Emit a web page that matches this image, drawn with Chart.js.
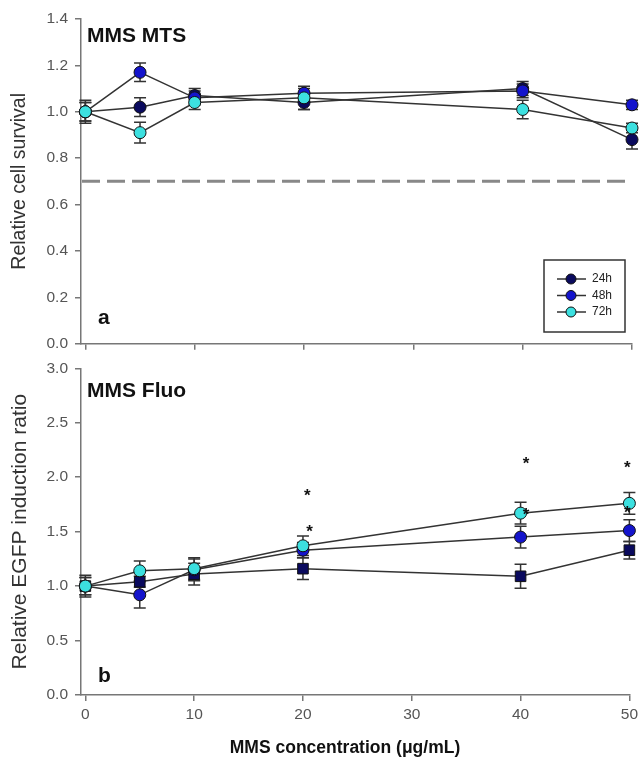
<!DOCTYPE html>
<html>
<head>
<meta charset="utf-8">
<script src="https://cdn.jsdelivr.net/npm/chart.js@4/dist/chart.umd.min.js"></script>
<style>
  body { margin: 0; background: #fff; width: 642px; height: 764px; overflow: hidden; position: relative; }
  canvas { position: absolute; left: 0; }
  #mtsChart { top: 0; }
  #fluoChart { top: 352px; }
</style>
</head>
<body>
<canvas id="mtsChart" width="642" height="360"></canvas>
<canvas id="fluoChart" width="642" height="412"></canvas>
<script>
const concentrations = [0, 5, 10, 20, 40, 50];
const xTicks = [0, 10, 20, 30, 40, 50];
const seriesNames = ['24h', '48h', '72h'];
const seriesColors = ['#0a0a5e', '#1414cc', '#3ce0e0'];

// panel a - MTS survival
const mts24h = [1.00, 1.02, 1.07, 1.04, 1.10, 0.88];
const mts48h = [1.00, 1.17, 1.06, 1.08, 1.09, 1.03];
const mts72h = [1.00, 0.91, 1.04, 1.06, 1.01, 0.93];
const mtsErr24h = [0.04, 0.04, 0.03, 0.03, 0.03, 0.04];
const mtsErr48h = [0.04, 0.04, 0.03, 0.02, 0.03, 0.02];
const mtsErr72h = [0.05, 0.045, 0.03, 0.05, 0.04, 0.02];
const mtsTicks = [0, 0.2, 0.4, 0.6, 0.8, 1.0, 1.2, 1.4];
const mtsCutoff = 0.7;

// panel b - EGFP fluorescence
const fluo24h = [1.00, 1.04, 1.11, 1.16, 1.09, 1.33];
const fluo48h = [1.00, 0.92, 1.15, 1.33, 1.45, 1.51];
const fluo72h = [1.00, 1.14, 1.16, 1.37, 1.67, 1.76];
const fluoErr24h = [0.10, 0.05, 0.10, 0.10, 0.11, 0.08];
const fluoErr48h = [0.08, 0.12, 0.10, 0.07, 0.10, 0.10];
const fluoErr72h = [0.08, 0.09, 0.10, 0.09, 0.10, 0.10];
const fluoTicks = [0, 0.5, 1.0, 1.5, 2.0, 2.5, 3.0];
const starX = [20.4, 20.6, 40.5, 40.5, 49.8, 49.8];
const starY = [1.84, 1.51, 2.13, 1.66, 2.09, 1.68];

Chart.defaults.font.family = "'Liberation Sans', Arial, sans-serif";
Chart.defaults.color = '#555';

const makeSeries = (i, vals, errs, style, radius) => ({
    label: seriesNames[i],
    data: concentrations.map((c, k) => ({ x: c, y: vals[k] })),
    errs: errs,
    borderColor: '#333',
    borderWidth: 1.5,
    backgroundColor: seriesColors[i],
    pointBackgroundColor: seriesColors[i],
    pointBorderColor: '#111',
    pointBorderWidth: 1,
    pointRadius: radius,
    pointStyle: style,
    order: 2 - i,
    clip: false
});

const errorBars = {
    id: 'errorBars',
    beforeDatasetsDraw(chart) {
        const { ctx, scales: { x, y } } = chart;
        ctx.save();
        ctx.strokeStyle = '#333';
        ctx.lineWidth = 1.5;
        chart.data.datasets.forEach(ds => {
            ds.data.forEach((p, k) => {
                const e = ds.errs[k];
                const px = x.getPixelForValue(p.x);
                const top = y.getPixelForValue(p.y + e);
                const bot = y.getPixelForValue(p.y - e);
                ctx.beginPath();
                ctx.moveTo(px, top); ctx.lineTo(px, bot);
                ctx.moveTo(px - 6, top); ctx.lineTo(px + 6, top);
                ctx.moveTo(px - 6, bot); ctx.lineTo(px + 6, bot);
                ctx.stroke();
            });
        });
        ctx.restore();
    }
};

const panelText = {
    id: 'panelText',
    afterDraw(chart, args, opts) {
        const ctx = chart.ctx;
        ctx.save();
        ctx.fillStyle = '#111';
        ctx.textBaseline = 'middle';
        ctx.textAlign = 'left';
        (opts.items || []).forEach(t => {
            ctx.font = t.font;
            ctx.fillText(t.text, t.x, t.y);
        });
        ctx.restore();
    }
};

const cutoffLine = {
    id: 'cutoffLine',
    beforeDatasetsDraw(chart) {
        const { ctx, chartArea, scales: { y } } = chart;
        const py = y.getPixelForValue(mtsCutoff);
        ctx.save();
        ctx.strokeStyle = '#888';
        ctx.lineWidth = 3;
        ctx.setLineDash([18, 7]);
        ctx.beginPath();
        ctx.moveTo(chartArea.left + 1, py);
        ctx.lineTo(chartArea.right, py);
        ctx.stroke();
        ctx.restore();
    }
};

const legendBox = {
    id: 'legendBox',
    afterDraw(chart) {
        const ctx = chart.ctx;
        ctx.save();
        ctx.fillStyle = '#fff';
        ctx.strokeStyle = '#333';
        ctx.lineWidth = 1.5;
        ctx.fillRect(544, 260, 81, 72);
        ctx.strokeRect(544, 260, 81, 72);
        ctx.font = "12px 'Liberation Sans', Arial, sans-serif";
        ctx.textBaseline = 'middle';
        seriesNames.forEach((name, i) => {
            const ly = 279 + i * 16.5;
            ctx.strokeStyle = '#333';
            ctx.beginPath();
            ctx.moveTo(557, ly); ctx.lineTo(586, ly);
            ctx.stroke();
            ctx.beginPath();
            ctx.arc(571, ly, 5, 0, Math.PI * 2);
            ctx.fillStyle = seriesColors[i];
            ctx.fill();
            ctx.lineWidth = 1;
            ctx.strokeStyle = '#111';
            ctx.stroke();
            ctx.lineWidth = 1.5;
            ctx.fillStyle = '#222';
            ctx.fillText(name, 592, ly);
        });
        ctx.restore();
    }
};

const stars = {
    id: 'stars',
    afterDatasetsDraw(chart) {
        const { ctx, scales: { x, y } } = chart;
        ctx.save();
        ctx.fillStyle = '#111';
        ctx.font = "bold 17px 'Liberation Sans', Arial, sans-serif";
        ctx.textAlign = 'center';
        ctx.textBaseline = 'alphabetic';
        starX.forEach((sx, i) => {
            ctx.fillText('*', x.getPixelForValue(sx), y.getPixelForValue(starY[i]) + 6);
        });
        ctx.restore();
    }
};

const xTitle = {
    id: 'xTitle',
    afterDraw(chart) {
        const ctx = chart.ctx;
        ctx.save();
        ctx.fillStyle = '#111';
        ctx.font = "bold 17.5px 'Liberation Sans', Arial, sans-serif";
        ctx.textAlign = 'center';
        ctx.textBaseline = 'middle';
        ctx.fillText('MMS concentration (\u03BCg/mL)', 345, 396);
        ctx.restore();
    }
};

const xAxis = (showLabels, height) => ({
    type: 'linear',
    min: -0.4,
    max: 50,
    afterBuildTicks: s => { s.ticks = xTicks.map(v => ({ value: v })); },
    afterFit: s => { s.height = height; },
    grid: { display: true, drawOnChartArea: false, drawTicks: true, tickLength: 6, color: '#777', lineWidth: 1.5 },
    border: { display: true, color: '#777', width: 1.5 },
    ticks: { display: showLabels, autoSkip: false, maxRotation: 0, padding: 4, color: '#555', font: { size: 15.5 } }
});

const yAxis = (min, max, ticks, title, titleSize) => ({
    type: 'linear',
    min: min,
    max: max,
    afterBuildTicks: s => { s.ticks = ticks.map(v => ({ value: v })); },
    afterFit: s => { s.width = 81; },
    grid: { display: true, drawOnChartArea: false, drawTicks: true, tickLength: 6, color: '#777', lineWidth: 1.5 },
    border: { display: true, color: '#777', width: 1.5 },
    ticks: { padding: 7, color: '#555', font: { size: 15.5 }, callback: v => v.toFixed(1) },
    title: { display: true, text: title, color: '#333', font: { size: titleSize }, padding: { top: 8, bottom: 0 } }
});

new Chart(document.getElementById('mtsChart'), {
    type: 'line',
    data: {
        datasets: [
            makeSeries(0, mts24h, mtsErr24h, 'circle', 6),
            makeSeries(1, mts48h, mtsErr48h, 'circle', 6),
            makeSeries(2, mts72h, mtsErr72h, 'circle', 6)
        ]
    },
    options: {
        responsive: false,
        animation: false,
        events: [],
        layout: { padding: { top: 19, right: 10, bottom: 0, left: 0 } },
        scales: {
            x: xAxis(false, 12),
            y: yAxis(0, 1.4, mtsTicks, 'Relative cell survival', 19.5)
        },
        plugins: {
            legend: { display: false },
            tooltip: { enabled: false },
            panelText: {
                items: [
                    { text: 'MMS MTS', x: 87, y: 36, font: "bold 21px 'Liberation Sans', Arial, sans-serif" },
                    { text: 'a', x: 98, y: 318, font: "bold 21px 'Liberation Sans', Arial, sans-serif" }
                ]
            }
        }
    },
    plugins: [cutoffLine, errorBars, panelText, legendBox]
});

new Chart(document.getElementById('fluoChart'), {
    type: 'line',
    data: {
        datasets: [
            makeSeries(0, fluo24h, fluoErr24h, 'rect', 7.5),
            makeSeries(1, fluo48h, fluoErr48h, 'circle', 6),
            makeSeries(2, fluo72h, fluoErr72h, 'circle', 6)
        ]
    },
    options: {
        responsive: false,
        animation: false,
        events: [],
        layout: { padding: { top: 0, right: 10, bottom: 0, left: 0 } },
        scales: {
            x: xAxis(true, 69),
            y: yAxis(0, 3.0, fluoTicks, 'Relative EGFP induction ratio', 21)
        },
        plugins: {
            legend: { display: false },
            tooltip: { enabled: false },
            panelText: {
                items: [
                    { text: 'MMS Fluo', x: 87, y: 39, font: "bold 21px 'Liberation Sans', Arial, sans-serif" },
                    { text: 'b', x: 98, y: 324, font: "bold 21px 'Liberation Sans', Arial, sans-serif" }
                ]
            }
        }
    },
    plugins: [errorBars, stars, panelText, xTitle]
});
</script>
</body>
</html>
